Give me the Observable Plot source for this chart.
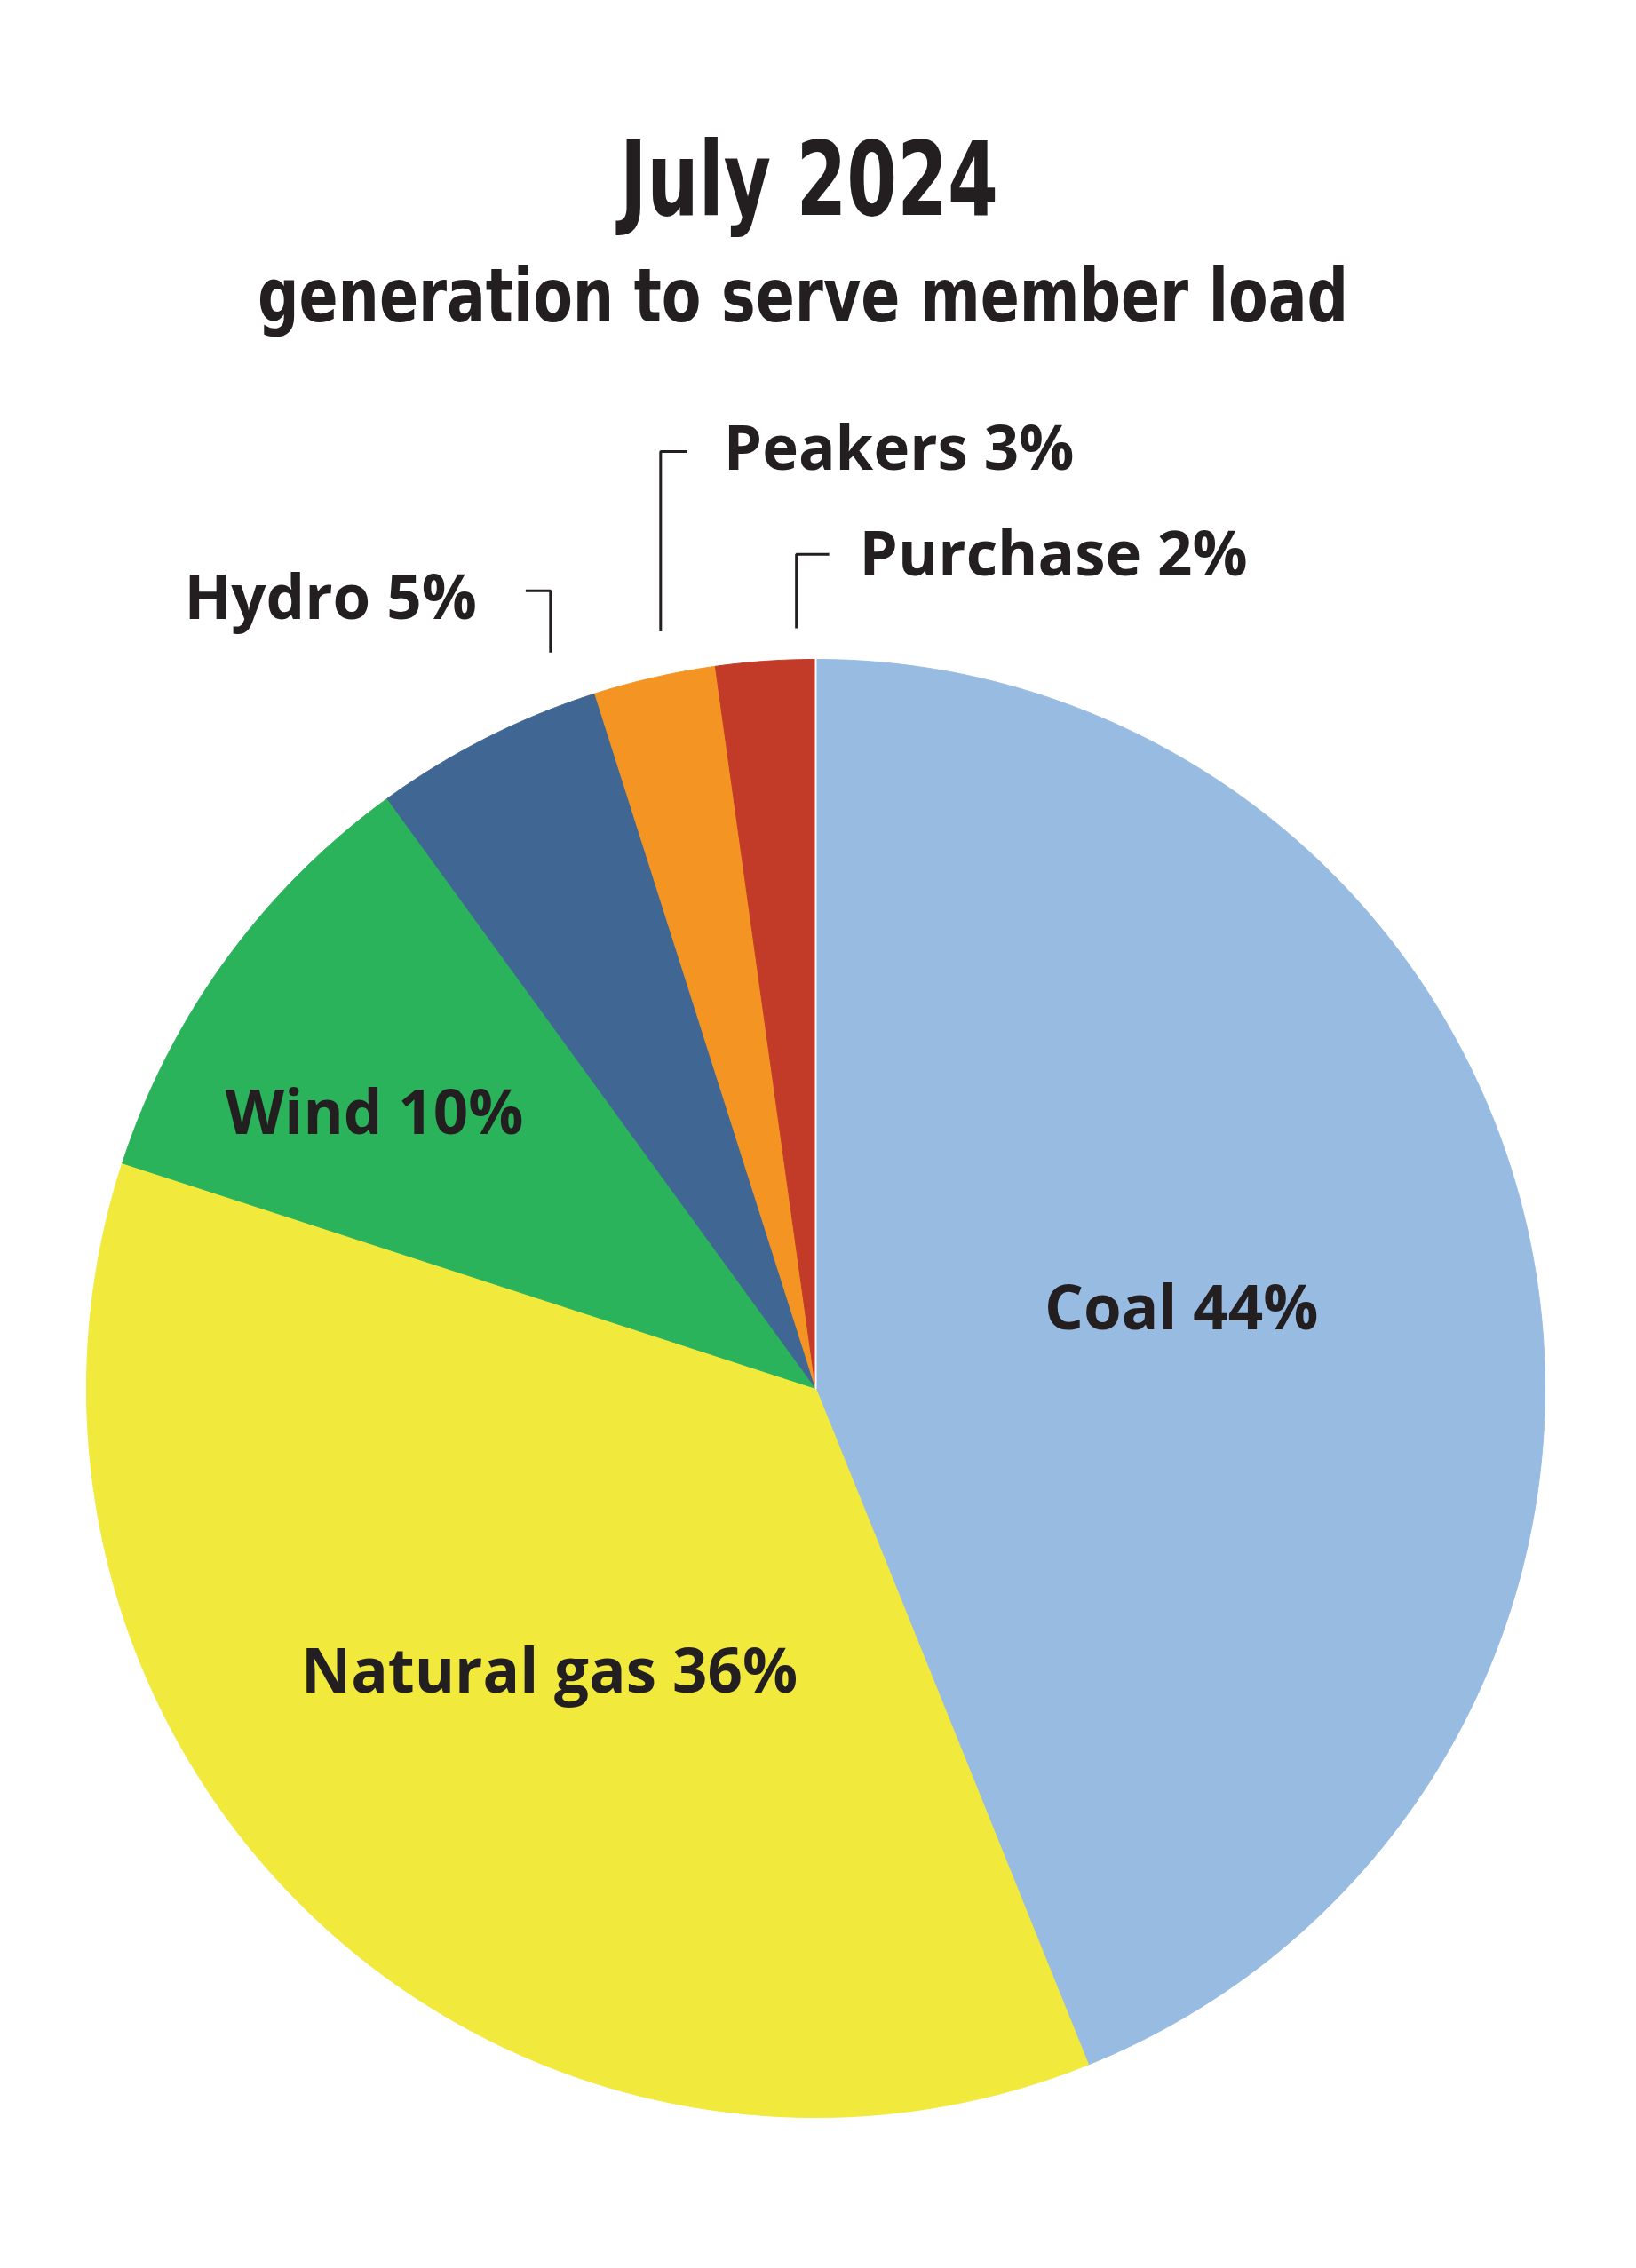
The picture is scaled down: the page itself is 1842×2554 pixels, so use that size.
<!DOCTYPE html>
<html><head><meta charset="utf-8">
<script src="https://cdn.jsdelivr.net/npm/d3@7"></script>
<script src="https://cdn.jsdelivr.net/npm/@observablehq/plot@0.6"></script>
<style>
body{margin:0;background:#fff;}
#head{position:relative;height:420px;width:1842px;color:#231F20;overflow:hidden}
.t{position:absolute;display:inline-block;transform-origin:0 0;font-family:"Liberation Sans Narrow","Arial Narrow","DejaVu Sans Condensed",sans-serif;font-weight:700;line-height:1;white-space:nowrap}
#title{top:144px;font-size:116px}
#subtitle{top:291px;font-size:84px}
</style></head><body>
<div id="head"><span id="title" class="t">July 2024</span><span id="subtitle" class="t">generation to serve member load</span></div>
<div id="chart"></div>
<script>
// ---- data ----
const categories = ["Coal", "Natural gas", "Wind", "Hydro", "Peakers", "Purchase"];
const shares = [43.9, 36.1, 10.0, 5.1, 2.7, 2.2];
const labels = ["Coal 44%", "Natural gas 36%", "Wind 10%", "Hydro 5%", "Peakers 3%", "Purchase 2%"];
const colors = ["#98BBE2", "#F2E93D", "#2AB35B", "#406693", "#F39423", "#C23B29"];

// ---- heading layout: condensed headline fitted to target width ----
const headLayout = {title: {center: 911, width: 426}, subtitle: {center: 904, width: 1228}};
for (const id of Object.keys(headLayout)) {
  const el = document.getElementById(id);
  const w = el.getBoundingClientRect().width;
  const s = headLayout[id].width / w;
  el.style.transform = `scaleX(${s})`;
  el.style.left = (headLayout[id].center - headLayout[id].width / 2) + "px";
}

// ---- label layout (relative to slice mid-angle, radius in pie units) ----
const labelLayout = {
  "Coal": {inside: true, da: 1.74, r: 0.508},
  "Natural gas": {inside: true, da: -1.85, r: 0.555},
  "Wind": {inside: true, da: -6.0, r: 0.699},
  "Hydro": {da: 7.0, r0: 1.073, elbow: 1.094, arm: -0.034, gap: -0.067, baseline: 1.056, anchor: "end"},
  "Peakers": {da: 1.2, r0: 1.060, elbow: 1.285, arm: 0.0365, gap: 0.05, baseline: 1.2606, anchor: "start"},
  "Purchase": {da: 2.5, r0: 1.043, elbow: 1.144, arm: 0.045, gap: 0.0414, baseline: 1.1157, anchor: "start"}
};

const total = d3.sum(shares);
let acc = 0;
const slices = categories.map((c, i) => {
  const a0 = acc / total * 360; acc += shares[i]; const a1 = acc / total * 360;
  return {category: c, label: labels[i], a0, a1, mid: (a0 + a1) / 2};
});
const rad = d => d * Math.PI / 180;
const polar = (a, r) => [r * Math.sin(rad(a)), r * Math.cos(rad(a))];

const slicePts = slices.flatMap(s => {
  const n = Math.max(2, Math.ceil((s.a1 - s.a0) / 0.2));
  const pts = [{category: s.category, u: 0, v: 0}];
  for (let k = 0; k <= n; k++) {
    const [u, v] = polar(s.a0 + (s.a1 - s.a0) * k / n, 1);
    pts.push({category: s.category, u, v});
  }
  pts.push({category: s.category, u: 0, v: 0});
  return pts;
});

const seam = [{u: 0, v: 0}, (() => { const [u, v] = polar(slices[0].a0, 1); return {u, v}; })()];

const leaderPts = [];
const textRows = [];
slices.forEach(s => {
  const L = labelLayout[s.category];
  if (L.inside) {
    const [u, v] = polar(s.mid + L.da, L.r);
    textRows.push({label: s.label, u, v, anchor: "middle"});
  } else {
    const [u0, v0] = polar(s.mid + L.da, L.r0);
    leaderPts.push({category: s.category, u: u0, v: v0});
    leaderPts.push({category: s.category, u: u0, v: L.elbow});
    leaderPts.push({category: s.category, u: u0 + L.arm, v: L.elbow});
    textRows.push({label: s.label, u: u0 + L.arm + L.gap, v: L.baseline, anchor: L.anchor});
  }
});

const textOpts = {x: "u", y: "v", text: "label", fill: "#231F20", fontSize: 69, fontWeight: 700, lineAnchor: "bottom"};

const chart = Plot.plot({
  width: 1842,
  height: 2134,
  margin: 0,
  x: {domain: [-1, 1], range: [97, 1739], axis: null},
  y: {domain: [-1, 1], range: [1964, 322], axis: null},
  color: {domain: categories, range: colors},
  style: {fontFamily: "'Open Sans', sans-serif", background: "white", overflow: "visible"},
  marks: [
    Plot.line(slicePts, {x: "u", y: "v", z: "category", fill: "category", stroke: "category", strokeWidth: 1, curve: "linear"}),
    Plot.line(seam, {x: "u", y: "v", stroke: "white", strokeWidth: 2}),
    Plot.line(leaderPts, {x: "u", y: "v", z: "category", stroke: "#231F20", strokeWidth: 3, strokeLinejoin: "miter", strokeLinecap: "butt"}),
    Plot.text(textRows.filter(d => d.anchor === "middle"), {...textOpts, textAnchor: "middle"}),
    Plot.text(textRows.filter(d => d.anchor === "start"), {...textOpts, textAnchor: "start"}),
    Plot.text(textRows.filter(d => d.anchor === "end"), {...textOpts, textAnchor: "end"})
  ]
});
document.getElementById("chart").appendChild(chart);
</script>
</body></html>
